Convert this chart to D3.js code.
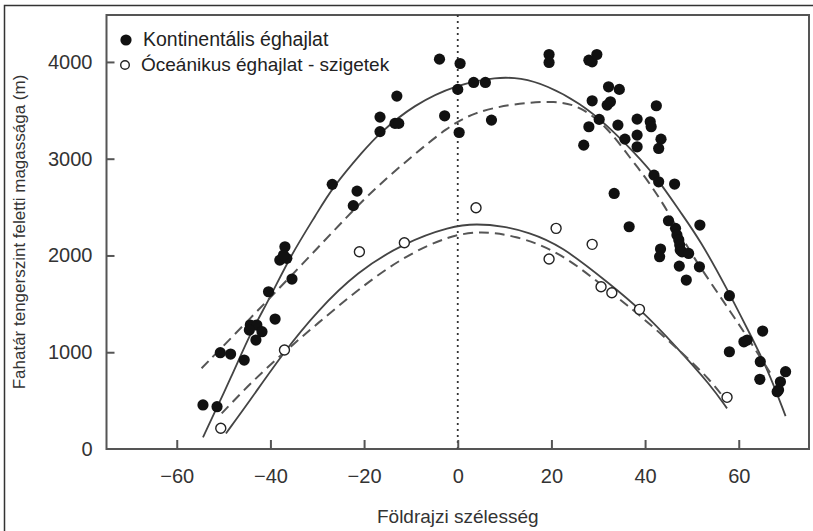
<!DOCTYPE html>
<html><head><meta charset="utf-8">
<script src="https://cdn.jsdelivr.net/npm/d3@7"></script>
<style>
body{margin:0;background:#fff;}
svg{display:block;font-family:"Liberation Sans",Arial,sans-serif;}
</style></head>
<body><svg id="c" width="813" height="531"></svg>
<script>
// Continental (filled) points: latitude, treeline altitude
const contLat = [-3.9,0.5,0,3.4,5.9,-13,-16.6,-16.6,-13.4,-12.6,-2.8,0.3,7.2,19.5,19.5,28,28.7,29.7,32.2,34.5,28.7,31.9,32.6,42.4,30.2,28,34.2,38.3,41.1,41.3,35.7,38.3,38.3,43.4,42.9,26.9,41.9,42.9,46.3,33.4,
  36.6,45,51.7,46.5,46.8,47.2,47.4,47.5,47.9,49.3,43.3,43.1,47.3,51.6,48.8,58,65.1,61.1,61.8,58,64.6,64.5,70,68.9,68.5,68.2,
  -26.8,-21.5,-22.3,-36.9,-38,-36.5,-37.2,-35.4,-40.4,-39,-44.3,-42.9,-44.5,-41.8,-43.1,-50.7,-48.5,-45.6,-54.4,-51.4];
const contAlt = [4029,3984,3716,3788,3788,3647,3430,3280,3365,3365,3443,3271,3399,4077,3995,4018,4001,4077,3743,3716,3598,3554,3588,3547,3406,3330,3347,3409,3381,3330,3202,3244,3123,3202,3106,3140,2830,2761,2738,2641,
  2297,2359,2314,2280,2211,2159,2107,2056,2038,2021,2066,1987,1890,1883,1746,1584,1219,1108,1126,1005,902,720,799,695,610,592,
  2735,2665,2515,2090,1952,1970,2004,1756,1625,1343,1281,1281,1229,1212,1126,995,981,919,455,437];
// Oceanic (open) points
const oceLat = [3.9,21,19.5,28.7,30.6,32.9,38.8,57.5,-21,-11.4,-37,-50.6];
const oceAlt = [2493,2280,1963,2115,1677,1615,1443,534,2038,2131,1023,214];
// Fitted curves
const contSolidLat = [-54.4,-48,-44.3,-40,-35.8,-30,-26.8,-20,-17,-9.4,0,8.4,13.4,19,26.2,31.9,37.6,42.6,47.5,51.8,57.5,61.8,66.1,70];
const contSolidAlt = [121,780,1196,1570,1990,2440,2700,3090,3250,3560,3770,3845,3835,3760,3572,3345,3070,2800,2450,2155,1655,1245,835,340];
const contDashLat = [-54.7,-44.3,-33.7,-23,-17.3,-9.4,-2.3,3.4,11.9,21.2,26.2,31.9,36.9,40.4,45.4,49,54,58.2,61.8,66.8];
const contDashAlt = [834,1350,1883,2435,2710,3040,3320,3480,3570,3600,3540,3330,3000,2790,2420,2080,1720,1420,1160,780];
const oceSolidLat = [-49.5,-44.3,-37,-30.1,-21.5,-11.4,-1.6,4,10,15,21.9,32.6,39,46.8,54,57.5];
const oceSolidAlt = [161,506,1010,1420,1832,2131,2300,2330,2300,2240,2110,1700,1445,1050,660,420];
const oceDashLat = [-50.4,-44.3,-37,-30.1,-21.5,-11.6,-1.6,5,12,21.9,32.6,39,48.2,54,57.2];
const oceDashAlt = [368,679,1005,1290,1640,1990,2210,2250,2210,2040,1620,1380,980,710,506];
const xTicks = [-60,-40,-20,0,20,40,60];
const yTicks = [0,1000,2000,3000,4000];
const legendLabels = ["Kontinentális éghajlat","Óceánikus éghajlat - szigetek"];
const xTitle = "Földrajzi szélesség";
const yTitle = "Fahatár tengerszint feletti magassága (m)";

const svg = d3.select("#c");
const L=106.5,R=809,T=15,B=449;
const x = d3.scaleLinear().domain([-75,75]).range([L,R]);
const y = d3.scaleLinear().domain([0,4485]).range([B,T]);

// outer frame
svg.append("path").attr("d","M4.5,531 L4.5,5.5 L813,5.5").attr("fill","none").attr("stroke","#333").attr("stroke-width",1.5);

// plot frame
svg.append("rect").attr("x",L).attr("y",T).attr("width",R-L).attr("height",B-T)
  .attr("fill","none").attr("stroke","#555").attr("stroke-width",2);

// zero dotted line
svg.append("line").attr("x1",x(0)).attr("x2",x(0)).attr("y1",T).attr("y2",B)
  .attr("stroke","#333").attr("stroke-width",1.8).attr("stroke-dasharray","2,4");

// axes
const xa = svg.append("g").attr("transform",`translate(0,${B})`)
  .call(d3.axisBottom(x).tickValues(xTicks).tickSize(-9).tickPadding(22).tickFormat(d3.format("d")));
const ya = svg.append("g").attr("transform",`translate(${L},0)`)
  .call(d3.axisLeft(y).tickValues(yTicks).tickSize(-8).tickPadding(14).tickFormat(d3.format("d")));
[xa,ya].forEach(a=>{
  a.select(".domain").remove();
  a.selectAll(".tick line").attr("stroke","#555").attr("stroke-width",2);
  a.selectAll(".tick text").attr("fill","#333").attr("font-size","20px").attr("font-family","Liberation Sans, Arial, sans-serif");
});
ya.selectAll(".tick").filter(d=>d===0).select("line").remove();
xa.selectAll(".tick text").attr("dy","0.71em").attr("y",20);

// titles
svg.append("text").attr("x",(L+R)/2).attr("y",523).attr("text-anchor","middle")
  .attr("font-size","19px").attr("fill","#333").text(xTitle);
svg.append("text").attr("transform",`translate(25,${(T+B)/2}) rotate(-90)`).attr("text-anchor","middle")
  .attr("font-size","17px").attr("fill","#333").text(yTitle);

// curves
const line = d3.line().x(d=>x(d[0])).y(d=>y(d[1])).curve(d3.curveBasis);
function curve(lat,alt,dash){
  svg.append("path").datum(d3.zip(lat,alt)).attr("d",line).attr("fill","none")
    .attr("stroke",dash?"#555":"#444").attr("stroke-width",dash?2:1.8)
    .attr("stroke-dasharray",dash?"10,6":null);
}
curve(contSolidLat,contSolidAlt,false);
curve(contDashLat,contDashAlt,true);
curve(oceSolidLat,oceSolidAlt,false);
curve(oceDashLat,oceDashAlt,true);

// points
svg.append("g").selectAll("circle").data(d3.zip(contLat,contAlt)).join("circle")
  .attr("cx",d=>x(d[0])).attr("cy",d=>y(d[1])).attr("r",5.6).attr("fill","#111");
svg.append("g").selectAll("circle").data(d3.zip(oceLat,oceAlt)).join("circle")
  .attr("cx",d=>x(d[0])).attr("cy",d=>y(d[1])).attr("r",5).attr("fill","#fff")
  .attr("stroke","#222").attr("stroke-width",1.4);

// legend
svg.append("circle").attr("cx",126).attr("cy",40).attr("r",5.6).attr("fill","#111");
svg.append("circle").attr("cx",125).attr("cy",65).attr("r",4.3).attr("fill","#fff").attr("stroke","#222").attr("stroke-width",1.4);
svg.append("text").attr("x",143).attr("y",46).attr("font-size","19.5px").attr("fill","#222").text(legendLabels[0]);
svg.append("text").attr("x",141).attr("y",71).attr("font-size","19px").attr("fill","#222").text(legendLabels[1]);
</script></body></html>
